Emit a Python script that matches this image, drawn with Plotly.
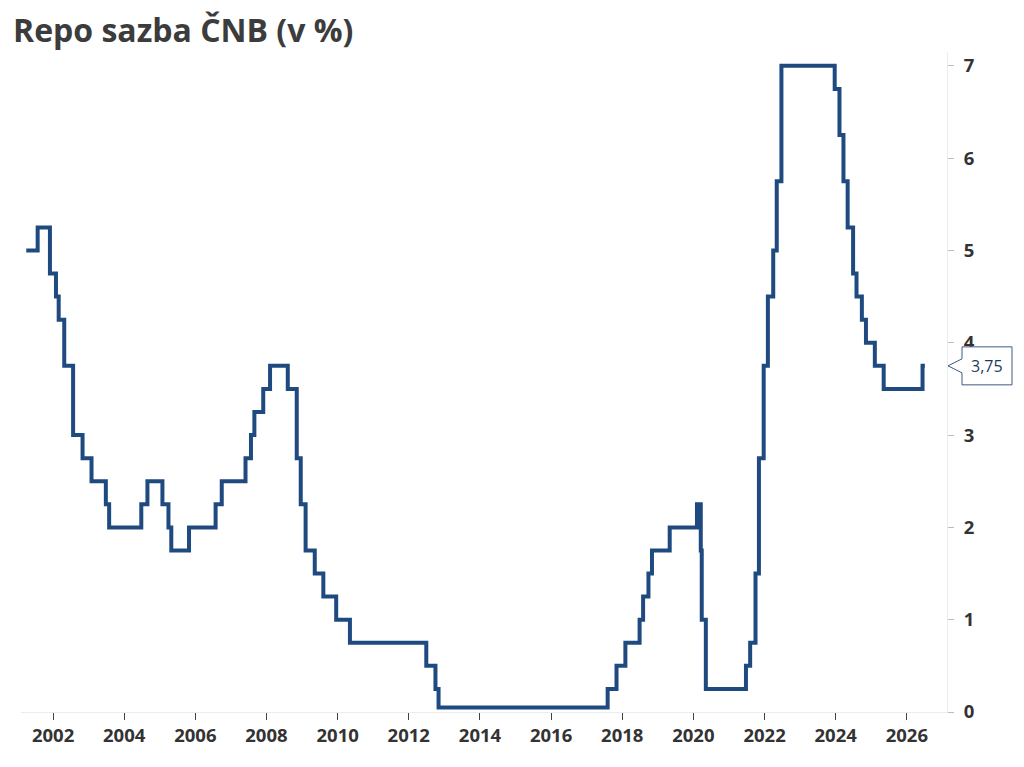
import plotly.graph_objects as go

# data cteny z grafu (datum zmeny sazby, nova sazba v %)
datumy = [
    "2001-04-01", "2001-07-27", "2001-11-30", "2002-01-31", "2002-02-28",
    "2002-04-26", "2002-07-26", "2002-10-31", "2003-01-31", "2003-06-27",
    "2003-07-31", "2004-06-25", "2004-08-27", "2005-01-28", "2005-03-31",
    "2005-04-29", "2005-10-28", "2006-07-28", "2006-09-29", "2007-05-31",
    "2007-07-26", "2007-08-30", "2007-11-29", "2008-02-07", "2008-08-07",
    "2008-11-07", "2008-12-18", "2009-02-06", "2009-05-11", "2009-08-07",
    "2009-12-17", "2010-05-07", "2012-06-29", "2012-10-01", "2012-11-02",
    "2017-08-04", "2017-11-03", "2018-02-02", "2018-06-28", "2018-08-03",
    "2018-09-27", "2018-11-02", "2019-05-03", "2020-02-07", "2020-03-17",
    "2020-03-27", "2020-05-08", "2021-06-24", "2021-08-06", "2021-09-30",
    "2021-11-04", "2021-12-23", "2022-02-04", "2022-03-31", "2022-05-06",
    "2022-06-23", "2023-12-22", "2024-02-09", "2024-03-21", "2024-05-03",
    "2024-06-28", "2024-08-02", "2024-09-26", "2024-11-07", "2025-02-06",
    "2025-05-08", "2026-06-11", "2026-07-05",
]
sazby = [
    5.00, 5.25, 4.75, 4.50, 4.25,
    3.75, 3.00, 2.75, 2.50, 2.25,
    2.00, 2.25, 2.50, 2.25, 2.00,
    1.75, 2.00, 2.25, 2.50, 2.75,
    3.00, 3.25, 3.50, 3.75, 3.50,
    2.75, 2.25, 1.75, 1.50, 1.25,
    1.00, 0.75, 0.50, 0.25, 0.05,
    0.25, 0.50, 0.75, 1.00, 1.25,
    1.50, 1.75, 2.00, 2.25, 1.75,
    1.00, 0.25, 0.50, 0.75, 1.50,
    2.75, 3.75, 4.50, 5.00, 5.75,
    7.00, 6.75, 6.25, 5.75, 5.25,
    4.75, 4.50, 4.25, 4.00, 3.75,
    3.50, 3.75, 3.75,
]
y_ticks = [0, 1, 2, 3, 4, 5, 6, 7]

barva = "#1f4a80"
pismo = "Open Sans"
text_barva = "#333333"

fig = go.Figure()
fig.add_trace(go.Scatter(
    x=datumy, y=sazby, mode="lines", line_shape="hv",
    line=dict(color=barva, width=4), hoverinfo="x+y", showlegend=False,
))

posledni = sazby[-1]
popisek = f"{posledni:.2f}".replace(".", ",")

# bublina s posledni hodnotou u prave osy
fig.add_shape(
    type="path", xref="paper", yref="y", xsizemode="pixel", ysizemode="pixel",
    xanchor=1, yanchor=posledni,
    path="M1,0 L15,7 L15,19 L65,19 L65,-19 L15,-19 L15,-7 Z",
    line=dict(color="#3d5a80", width=1), fillcolor="white", layer="above",
)
fig.add_annotation(
    x=1, xref="paper", y=posledni, yref="y", xanchor="center", xshift=40,
    text=popisek, showarrow=False, font=dict(family=pismo, size=16, color="#1f3a60"),
)

# stranka ma 8px okraj, proto o neco mensi rozmery
fig.update_layout(
    width=1016, height=759,
    margin=dict(l=13, r=77, t=44, b=55),
    paper_bgcolor="white", plot_bgcolor="white",
    title=dict(
        text="Repo sazba ČNB (v %)", x=5 / 1016, xanchor="left", xref="container",
        y=1 - 12 / 759, yanchor="top",
        font=dict(family=pismo, size=32, color="#3c3c3c", weight="bold"),
    ),
    font=dict(family=pismo, color=text_barva),
)
fig.update_xaxes(
    type="date", range=["2001-02-06", "2027-02-17"],
    tick0="2002-01-01", dtick="M24", tickformat="%Y",
    showgrid=False, zeroline=False,
    showline=True, linecolor="#ececec", linewidth=1,
    ticks="outside", ticklen=7, tickcolor="#444444", tickwidth=1,
    tickfont=dict(family=pismo, size=18.5, color=text_barva, weight="bold"),
)
fig.update_yaxes(
    side="right", range=[0, 7.15], tickvals=y_ticks,
    showgrid=False, zeroline=False,
    showline=True, linecolor="#ececec", linewidth=1,
    ticks="outside", ticklen=6, tickcolor="#bbbbbb", tickwidth=1,
    ticklabelstandoff=6,
    tickfont=dict(family=pismo, size=18.5, color=text_barva, weight="bold"),
)

fig.write_html("out.html")
